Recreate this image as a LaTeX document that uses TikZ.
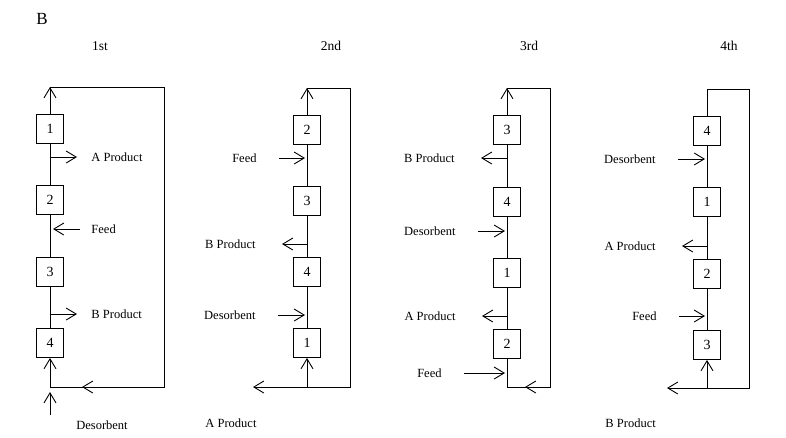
\documentclass[tikz,border=0pt]{standalone}
\usepackage{fontspec}
\setmainfont{Liberation Serif}
\usepackage{tikz}
\usetikzlibrary{arrows.meta}

\begin{document}
\begin{tikzpicture}[x=1pt,y=-1pt,line width=0.9pt,
  col/.style={draw,minimum width=27pt,minimum height=29pt,inner sep=0pt,font=\fontsize{14}{16}\selectfont},
  lbl/.style={inner sep=0pt,font=\fontsize{12.5}{14}\selectfont},
  hd/.style={font=\fontsize{13.5}{16}\selectfont},
  a/.style={-{Straight Barb[length=10pt,width=12pt]}},
  feedl/.style={a,shorten <=22pt,shorten >=2pt},
  prodl/.style={a,shorten >=26pt}]
\useasboundingbox (0,0) rectangle (786,437);
\node[font=\fontsize{17}{20}\selectfont] (fig) at (42,19) {B};
% --- 1st step ---
\node[hd] (h1) at (100,46) {1st};
\node[col] (c11) at (50,129) {1};
\node[col] (c12) at (50,200) {2};
\node[col] (c13) at (50,272) {3};
\node[col] (c14) at (50,343) {4};
\coordinate (t1) at (50,87); \coordinate (tr1) at (164,87);
\coordinate (br1) at (164,387); \coordinate (b1) at (50,387); \coordinate (m1) at (82,387);
\coordinate (d1) at (50,415);
\draw (c11)--(c12)--(c13)--(c14);
\draw[a] (c11)--(t1); \draw (t1)--(tr1)--(br1)--(b1);
\draw[a] (br1)--(m1); \draw[a] (b1)--(c14);
\coordinate (s11) at (50,157); \coordinate (s12) at (50,229); \coordinate (s13) at (50,314);
\node[lbl,anchor=west] (l11) at (91,157) {A Product};
\node[lbl,anchor=west] (l12) at (91,229) {Feed};
\node[lbl,anchor=west] (l13) at (91,314) {B Product};
\node[lbl] (l14) at (102,425) {Desorbent};
\draw[a,shorten >=14pt] (s11)--(l11);
\draw[a,shorten <=11pt,shorten >=3pt] (l12)--(s12);
\draw[a,shorten >=14pt] (s13)--(l13);
\draw[a,shorten >=5pt] (d1)--(b1);
% --- 2nd step ---
\node[hd] (h2) at (331,46) {2nd};
\node[col] (c21) at (307,130) {2};
\node[col] (c22) at (307,201) {3};
\node[col] (c23) at (307,272) {4};
\node[col] (c24) at (307,343) {1};
\coordinate (t2) at (307,88); \coordinate (tr2) at (350,88);
\coordinate (br2) at (350,387); \coordinate (b2) at (307,387); \coordinate (e2) at (253,387);
\draw (c21)--(c22)--(c23)--(c24);
\draw[a] (c21)--(t2); \draw (t2)--(tr2)--(br2)--(b2);
\draw[a] (br2)--(e2); \draw[a] (b2)--(c24);
\coordinate (s21) at (307,158); \coordinate (s22) at (307,244); \coordinate (s23) at (307,315);
\node[lbl,anchor=east] (l21) at (257,158) {Feed};
\node[lbl,anchor=east] (l22) at (256,244) {B Product};
\node[lbl,anchor=east] (l23) at (256,315) {Desorbent};
\node[lbl,anchor=west] (l24) at (205,423) {A Product};
\draw[feedl] (l21)--(s21); \draw[prodl] (s22)--(l22); \draw[feedl] (l23)--(s23);
% --- 3rd step ---
\node[hd] (h3) at (529,46) {3rd};
\node[col] (c31) at (507,130) {3};
\node[col] (c32) at (507,202) {4};
\node[col] (c33) at (507,273) {1};
\node[col] (c34) at (507,344) {2};
\coordinate (t3) at (507,88); \coordinate (tr3) at (550,88);
\coordinate (br3) at (550,387); \coordinate (b3) at (507,387); \coordinate (m3) at (525,387);
\draw (c31)--(c32)--(c33)--(c34);
\draw[a] (c31)--(t3); \draw (t3)--(tr3)--(br3)--(b3)--(c34);
\draw[a] (br3)--(m3);
\coordinate (s31) at (507,158); \coordinate (s32) at (507,231);
\coordinate (s33) at (507,316); \coordinate (s34) at (507,373);
\node[lbl,anchor=east] (l31) at (455,158) {B Product};
\node[lbl,anchor=east] (l32) at (456,231) {Desorbent};
\node[lbl,anchor=east] (l33) at (456,316) {A Product};
\node[lbl,anchor=east] (l34) at (442,373) {Feed};
\draw[prodl] (s31)--(l31); \draw[feedl] (l32)--(s32);
\draw[prodl] (s33)--(l33); \draw[feedl] (l34)--(s34);
% --- 4th step ---
\node[hd] (h4) at (729,46) {4th};
\node[col] (c41) at (707,131) {4};
\node[col] (c42) at (707,202) {1};
\node[col] (c43) at (707,274) {2};
\node[col] (c44) at (707,345) {3};
\coordinate (t4) at (707,89); \coordinate (tr4) at (749,89);
\coordinate (br4) at (749,388); \coordinate (b4) at (707,388); \coordinate (e4) at (667,388);
\draw (c41)--(c42)--(c43)--(c44);
\draw (c41)--(t4)--(tr4)--(br4)--(b4);
\draw[a] (br4)--(e4); \draw[a] (b4)--(c44);
\coordinate (s41) at (707,159); \coordinate (s42) at (707,246); \coordinate (s43) at (707,316);
\node[lbl,anchor=east] (l41) at (656,159) {Desorbent};
\node[lbl,anchor=east] (l42) at (656,246) {A Product};
\node[lbl,anchor=east] (l43) at (657,316) {Feed};
\node[lbl,anchor=west] (l44) at (605,423) {B Product};
\draw[feedl] (l41)--(s41); \draw[prodl] (s42)--(l42); \draw[feedl] (l43)--(s43);
\end{tikzpicture}
\end{document}
